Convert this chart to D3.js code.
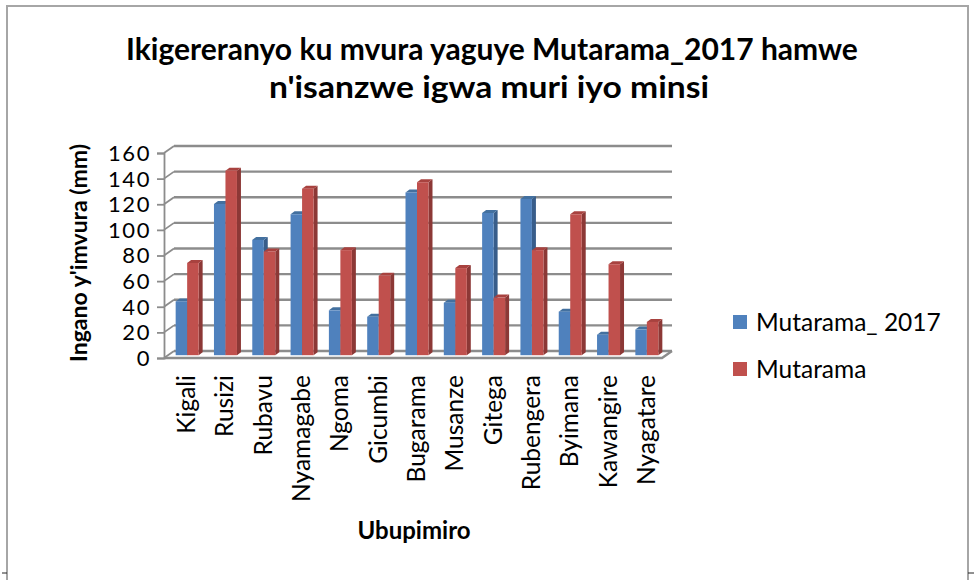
<!DOCTYPE html>
<html>
<head>
<meta charset="utf-8">
<script src="https://cdn.jsdelivr.net/npm/d3@7"></script>
<style>
  body { margin: 0; background: #fff; }
  svg { display: block; font-family: Lato, "Open Sans", sans-serif; }
</style>
</head>
<body>
<div class="canvas"></div>
<script>
// Data
const stations = ["Kigali", "Rusizi", "Rubavu", "Nyamagabe", "Ngoma", "Gicumbi", "Bugarama",
                  "Musanze", "Gitega", "Rubengera", "Byimana", "Kawangire", "Nyagatare"];
const mutarama2017 = [42, 118, 90, 110, 35, 30, 127, 41, 111, 122, 34, 16, 20];
const mutarama     = [72, 144, 81, 130, 82, 62, 135, 68, 45, 82, 110, 71, 26];
const seriesNames = ["Mutarama_ 2017", "Mutarama"];
const yTicks = [0, 20, 40, 60, 80, 100, 120, 140, 160];

// Colours for front / side / top faces
const colors = [
  { front: "#4f81bd", side: "#385d8a", top: "#43709f" },
  { front: "#c0504d", side: "#8c3836", top: "#a8423f" }
];

const W = 976, H = 580;
// plot floor (front edge) and 3D depth offset
const plot = { left: 164, right: 662, top: 153, bottom: 358 };
const depth = { dx: 10, dy: -7 };
const barDepth = { dx: 4, dy: -3 };
const barShift = 0.4; // bars sit part way back on the floor

const svg = d3.select(".canvas")
  .append("svg")
    .attr("width", W)
    .attr("height", H);

// chart frame
svg.append("rect")
  .attr("x", 7).attr("y", 6)
  .attr("width", 961).attr("height", 590)
  .attr("fill", "#fff")
  .attr("stroke", "#a6a6a6")
  .attr("stroke-width", 2);

// little handle marks at the bottom corners
[[2, 7], [968, 974]].forEach(([a, b]) => {
  svg.append("line")
    .attr("x1", a).attr("x2", b)
    .attr("y1", 573).attr("y2", 573)
    .attr("stroke", "#222").attr("stroke-width", 1);
});

// scales
const y = d3.scaleLinear()
  .domain([0, 160])
  .range([plot.bottom, plot.top]);

const x0 = d3.scaleBand()
  .domain(stations)
  .range([plot.left, plot.right])
  .paddingInner(0.4)
  .paddingOuter(0.2);

const x1 = d3.scaleBand()
  .domain(d3.range(seriesNames.length))
  .range([0, x0.bandwidth()]);

const gridColor = "#8c8c8c";

// back wall gridlines
svg.append("g")
  .selectAll("line")
  .data(yTicks)
  .join("line")
    .attr("x1", plot.left + depth.dx)
    .attr("x2", plot.right + depth.dx)
    .attr("y1", d => y(d) + depth.dy)
    .attr("y2", d => y(d) + depth.dy)
    .attr("stroke", gridColor)
    .attr("stroke-width", 2.4);

// side wall diagonals
svg.append("g")
  .selectAll("line")
  .data(yTicks)
  .join("line")
    .attr("x1", plot.left)
    .attr("x2", plot.left + depth.dx)
    .attr("y1", d => y(d))
    .attr("y2", d => y(d) + depth.dy)
    .attr("stroke", gridColor)
    .attr("stroke-width", 1.8);

// floor outline
svg.append("path")
  .attr("d", `M${plot.left},${y(0)} L${plot.right},${y(0)} L${plot.right + depth.dx},${y(0) + depth.dy}`)
  .attr("fill", "none")
  .attr("stroke", gridColor)
  .attr("stroke-width", 2.4);

// y axis (front edge) with ticks
svg.append("g")
  .attr("transform", `translate(${plot.left},0)`)
  .call(d3.axisLeft(y).tickValues(yTicks).tickSize(7).tickFormat(""))
  .call(g => g.selectAll("line, path").attr("stroke", gridColor).attr("stroke-width", 1.8));

// y tick labels
svg.append("g")
  .selectAll("text")
  .data(yTicks)
  .join("text")
    .attr("x", 151)
    .attr("y", d => y(d))
    .attr("dy", "0.36em")
    .attr("text-anchor", "end")
    .style("font-size", "22px")
    .style("letter-spacing", "1.6px")
    .attr("fill", "#000")
    .text(d => d);

// bars
const rows = stations.map((s, i) => ({ station: s, values: [mutarama2017[i], mutarama[i]] }));
const sx = depth.dx * barShift, sy = depth.dy * barShift;

const groups = svg.append("g")
  .selectAll("g")
  .data(rows)
  .join("g")
    .attr("transform", d => `translate(${x0(d.station) + sx},${sy})`);

groups.each(function(d) {
  const g = d3.select(this);
  d.values.forEach((v, k) => {
    const bx = x1(k), bw = x1.bandwidth();
    const top = y(v), base = y(0);
    const c = colors[k];
    // side face
    g.append("path")
      .attr("d", `M${bx + bw},${base} L${bx + bw + barDepth.dx},${base + barDepth.dy} L${bx + bw + barDepth.dx},${top + barDepth.dy} L${bx + bw},${top} Z`)
      .attr("fill", c.side);
    // top face
    g.append("path")
      .attr("d", `M${bx},${top} L${bx + barDepth.dx},${top + barDepth.dy} L${bx + bw + barDepth.dx},${top + barDepth.dy} L${bx + bw},${top} Z`)
      .attr("fill", c.top);
    // front face
    g.append("rect")
      .attr("x", bx)
      .attr("y", top)
      .attr("width", bw)
      .attr("height", base - top)
      .attr("fill", c.front);
  });
});

// category labels (rotated)
svg.append("g")
  .selectAll("text")
  .data(stations)
  .join("text")
    .attr("transform", d => `translate(${x0(d) + x0.bandwidth() / 2 + sx + 8},375) rotate(-90)`)
    .attr("text-anchor", "end")
    .style("font-size", "24.5px")
    .attr("fill", "#000")
    .text(d => d);

// axis titles
svg.append("text")
  .attr("transform", "translate(87,253) rotate(-90)")
  .attr("text-anchor", "middle")
  .style("font-size", "23px")
  .style("font-weight", "bold")
  .text("Ingano y'imvura (mm)");

svg.append("text")
  .attr("x", 414)
  .attr("y", 539)
  .attr("text-anchor", "middle")
  .style("font-size", "24px")
  .style("font-weight", "bold")
  .text("Ubupimiro");

// title
const title = svg.append("text")
  .attr("text-anchor", "middle")
  .style("font-size", "30px")
  .style("font-weight", "bold");
title.append("tspan").attr("x", 492).attr("y", 60)
  .text("Ikigereranyo ku mvura yaguye Mutarama_2017 hamwe");
title.append("tspan").attr("x", 489).attr("y", 98)
  .attr("textLength", 440).attr("lengthAdjust", "spacingAndGlyphs")
  .text("n'isanzwe igwa muri iyo minsi");

// legend
const legend = svg.append("g")
  .selectAll("g")
  .data(seriesNames)
  .join("g")
    .attr("transform", (d, i) => `translate(733,${322 + i * 47})`);

legend.append("rect")
  .attr("x", 0).attr("y", -7)
  .attr("width", 14).attr("height", 14)
  .attr("fill", (d, i) => colors[i].front);

legend.append("text")
  .attr("x", 23)
  .attr("dy", "0.36em")
  .style("font-size", "24.5px")
  .text(d => d);
</script>
</body>
</html>
